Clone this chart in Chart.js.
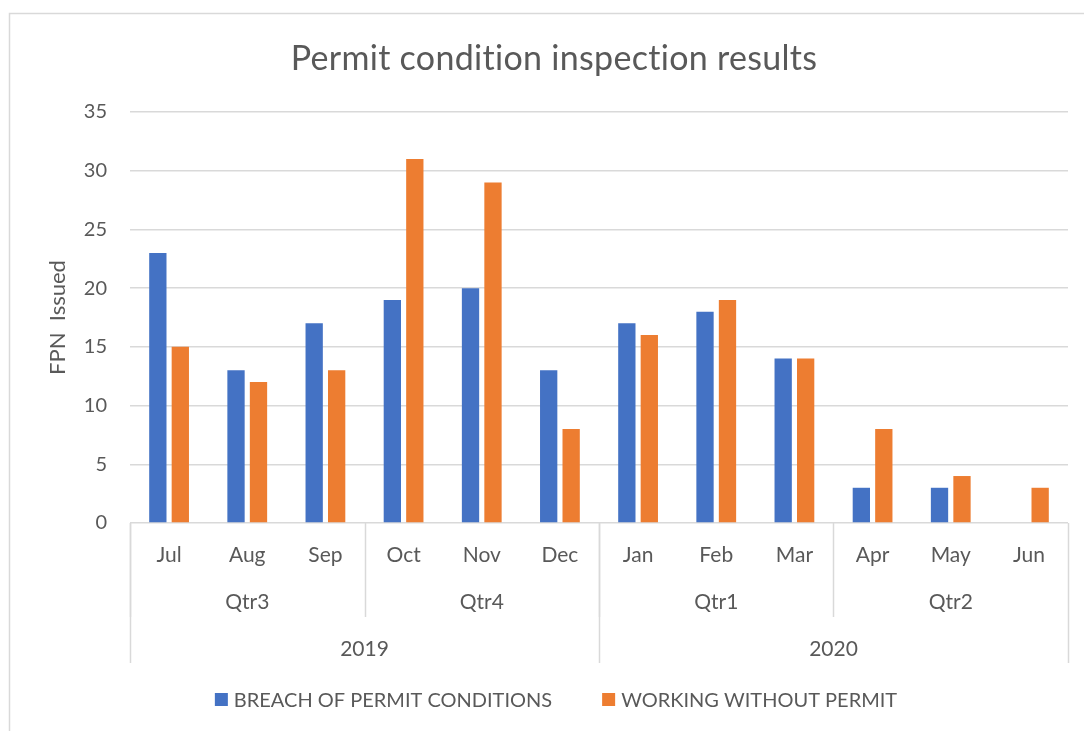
<!DOCTYPE html>
<html>
<head>
<meta charset="utf-8">
<title>Permit condition inspection results</title>
<script src="https://cdn.jsdelivr.net/npm/chart.js@4"></script>
<style>
  html, body { margin: 0; padding: 0; background: #fff; }
  #wrap { position: relative; width: 1084px; height: 731px; }
</style>
</head>
<body>
<div id="wrap"><canvas id="permitChart" width="1084" height="731"></canvas></div>
<script>
const months = ['Jul', 'Aug', 'Sep', 'Oct', 'Nov', 'Dec', 'Jan', 'Feb', 'Mar', 'Apr', 'May', 'Jun'];
const quarters = ['Qtr3', 'Qtr4', 'Qtr1', 'Qtr2'];
const quarterSpan = [3, 3, 3, 3];
const years = ['2019', '2020'];
const yearSpan = [6, 6];
const breachValues = [23, 13, 17, 19, 20, 13, 17, 18, 14, 3, 3, null];
const withoutPermitValues = [15, 12, 13, 31, 29, 8, 16, 19, 14, 8, 4, 3];
const yTicks = [0, 5, 10, 15, 20, 25, 30, 35];

const FONT = 'Lato, "Liberation Sans", sans-serif';
const TEXT = '#595959';
const LINE = '#D9D9D9';

// title, frame, legend and the 3-level category axis
const decorPlugin = {
    id: 'decor',
    beforeDraw(chart) {
        const ctx = chart.ctx;
        ctx.save();
        ctx.strokeStyle = LINE;
        ctx.lineWidth = 1.5;
        ctx.strokeRect(9.5, 13.5, 1200, 800);
        ctx.restore();
    },
    afterDraw(chart) {
        const { ctx, chartArea, scales: { x } } = chart;
        const half = (x.getPixelForValue(1) - x.getPixelForValue(0)) / 2;
        const edge = (i) => x.getPixelForValue(i) - half;
        const bottom = chartArea.bottom;

        ctx.save();
        ctx.fillStyle = TEXT;
        ctx.textAlign = 'center';
        ctx.textBaseline = 'alphabetic';

        // title (small letter spacing also stops the "ti" ligature)
        ctx.font = '34px ' + FONT;
        ctx.letterSpacing = '0.3px';
        ctx.fillText('Permit condition inspection results', 554, 70);
        ctx.letterSpacing = '0px';

        // months
        ctx.font = '21px ' + FONT;
        months.forEach((m, i) => ctx.fillText(m, x.getPixelForValue(i), 562));

        // quarters
        ctx.strokeStyle = LINE;
        ctx.lineWidth = 1.5;
        let start = 0;
        quarters.forEach((q, k) => {
            const a = edge(start);
            const b = edge(start + quarterSpan[k]);
            ctx.fillText(q, (a + b) / 2, 609);
            ctx.beginPath();
            ctx.moveTo(Math.round(a) + 0.5, bottom);
            ctx.lineTo(Math.round(a) + 0.5, 617);
            ctx.stroke();
            start += quarterSpan[k];
        });

        // years
        start = 0;
        years.forEach((y, k) => {
            const a = edge(start);
            const b = edge(start + yearSpan[k]);
            ctx.fillText(y, (a + b) / 2, 656);
            ctx.beginPath();
            ctx.moveTo(Math.round(a) + 0.5, bottom);
            ctx.lineTo(Math.round(a) + 0.5, 663);
            ctx.stroke();
            start += yearSpan[k];
        });
        const endX = Math.round(edge(months.length)) + 0.5;
        ctx.beginPath();
        ctx.moveTo(endX, bottom);
        ctx.lineTo(endX, 663);
        ctx.stroke();

        // legend
        ctx.font = '20px ' + FONT;
        const items = chart.data.datasets.map((d) => ({ label: d.label, color: d.backgroundColor }));
        const box = 13, boxGap = 6, itemGap = 50;
        const widths = items.map((it) => box + boxGap + ctx.measureText(it.label).width);
        const total = widths.reduce((s, w) => s + w, 0) + itemGap * (items.length - 1);
        let lx = 556 - total / 2;
        ctx.textAlign = 'left';
        items.forEach((it, i) => {
            ctx.fillStyle = it.color;
            ctx.fillRect(lx, 693, box, box);
            ctx.fillStyle = TEXT;
            ctx.fillText(it.label, lx + box + boxGap, 707);
            lx += widths[i] + itemGap;
        });
        ctx.restore();
    }
};

new Chart(document.getElementById('permitChart').getContext('2d'), {
    type: 'bar',
    data: {
        labels: months,
        datasets: [
            { label: 'BREACH OF PERMIT CONDITIONS', data: breachValues, backgroundColor: '#4472C4',
              categoryPercentage: 0.575, barPercentage: 0.77 },
            { label: 'WORKING WITHOUT PERMIT', data: withoutPermitValues, backgroundColor: '#ED7D31',
              categoryPercentage: 0.575, barPercentage: 0.77 }
        ]
    },
    options: {
        responsive: false,
        animation: false,
        layout: { padding: { left: 40, top: 112, right: 16, bottom: 208 } },
        plugins: {
            legend: { display: false },
            title: { display: false },
            tooltip: { enabled: false }
        },
        scales: {
            x: { display: false },
            y: {
                min: 0,
                max: 35,
                afterFit: (scale) => { scale.width = 90; },
                afterBuildTicks: (scale) => { scale.ticks = yTicks.map((v) => ({ value: v })); },
                grid: { color: LINE, lineWidth: 1.5, drawTicks: false },
                border: { display: false },
                ticks: { color: TEXT, padding: 23, font: { family: FONT, size: 20 } },
                title: {
                    display: true,
                    text: 'FPN  Issued',
                    color: TEXT,
                    padding: { top: 5, bottom: 0 },
                    font: { family: FONT, size: 22 }
                }
            }
        }
    },
    plugins: [decorPlugin]
});
</script>
</body>
</html>
